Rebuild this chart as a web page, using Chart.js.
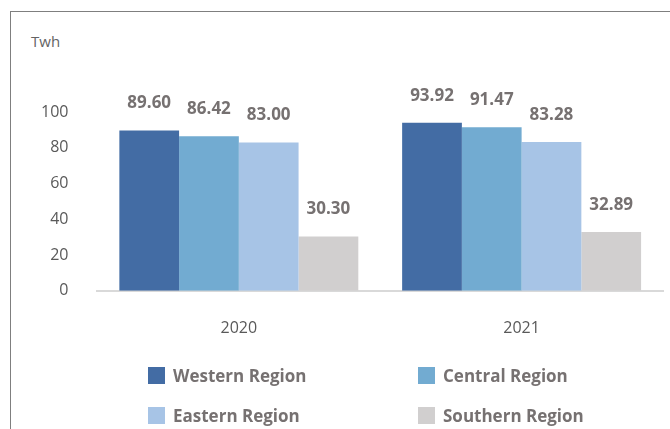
<!DOCTYPE html>
<html>
<head>
<meta charset="utf-8">
<script src="https://cdn.jsdelivr.net/npm/chart.js@4/dist/chart.umd.min.js"></script>
<style>
  html, body { margin: 0; padding: 0; background: #fff; }
  #wrap { position: relative; width: 670px; height: 429px; overflow: hidden; font-family: "Open Sans", sans-serif; }
  #frame { position: absolute; left: 10px; top: 11px; width: 680px; height: 440px; border-left: 1.5px solid #7f7f7f; border-top: 1.5px solid #7f7f7f; }
  #unit { position: absolute; left: 31px; top: 31px; font-size: 15px; color: #646464; }
  #leyenda { position: absolute; left: 0; top: 0; width: 670px; height: 429px; pointer-events: none; }
  .item { position: absolute; display: flex; align-items: center; font-size: 17px; font-weight: bold; color: #767171; white-space: nowrap; }
  .item span.cuadro { display: inline-block; width: 17px; height: 17px; margin-right: 8px; }
  canvas { position: absolute; left: 0; top: 0; }
</style>
</head>
<body>
<div id="wrap">
  <div id="frame"></div>
  <div id="unit">Twh</div>
  <canvas id="grafico" width="670" height="429"></canvas>
  <div id="leyenda"></div>
</div>
<script>
var anos = ["2020", "2021"];
var regiones = ["Western Region", "Central Region", "Eastern Region", "Southern Region"];
var western = [89.60, 93.92];
var central = [86.42, 91.47];
var eastern = [83.00, 83.28];
var southern = [30.30, 32.89];
var cores = ["#436ca4", "#72abd1", "#a7c4e6", "#d1cfcf"];
var ticksY = [0, 20, 40, 60, 80, 100];

// etiquetas encima de las barras
var etiquetas = {
    id: "etiquetas",
    afterDatasetsDraw: function (chart) {
        var ctx = chart.ctx;
        ctx.save();
        ctx.font = "bold 17px 'Open Sans'";
        ctx.fillStyle = "#767171";
        ctx.textAlign = "center";
        ctx.textBaseline = "middle";
        chart.data.datasets.forEach(function (ds, i) {
            var meta = chart.getDatasetMeta(i);
            meta.data.forEach(function (barra, j) {
                ctx.fillText(ds.data[j].toFixed(2), barra.x, barra.y - 27);
            });
        });
        ctx.restore();
    }
};

var ctx = document.getElementById("grafico").getContext("2d");
var grafico = new Chart(ctx, {
    type: "bar",
    data: {
        labels: anos,
        datasets: [
            { label: regiones[0], data: western, backgroundColor: cores[0] },
            { label: regiones[1], data: central, backgroundColor: cores[1] },
            { label: regiones[2], data: eastern, backgroundColor: cores[2] },
            { label: regiones[3], data: southern, backgroundColor: cores[3] }
        ]
    },
    options: {
        responsive: false,
        animation: false,
        layout: { padding: { left: 20, right: 7, top: 112, bottom: 71 } },
        datasets: { bar: { categoryPercentage: 0.845, barPercentage: 1.0 } },
        plugins: {
            legend: { display: false },
            title: { display: false },
            tooltip: { enabled: false }
        },
        scales: {
            x: {
                grid: { display: false },
                border: { display: true, color: "#d9d9d9", width: 2 },
                ticks: { color: "#595959", font: { family: "Open Sans", size: 16 }, padding: 20 }
            },
            y: {
                min: 0,
                max: 100,
                grid: { display: false },
                border: { display: false },
                afterBuildTicks: function (axis) {
                    axis.ticks = ticksY.map(function (v) { return { value: v }; });
                },
                ticks: { color: "#595959", font: { family: "Open Sans", size: 16 }, padding: 21 }
            }
        }
    },
    plugins: [etiquetas]
});

// leyenda en dos columnas
var posiciones = [[148, 376], [418, 376], [148, 416], [418, 416]];
var leyenda = document.getElementById("leyenda");
regiones.forEach(function (r, i) {
    var d = document.createElement("div");
    d.className = "item";
    d.style.left = posiciones[i][0] + "px";
    d.style.top = (posiciones[i][1] - 12) + "px";
    d.innerHTML = '<span class="cuadro" style="background:' + cores[i] + '"></span>' + r;
    leyenda.appendChild(d);
});
</script>
</body>
</html>
